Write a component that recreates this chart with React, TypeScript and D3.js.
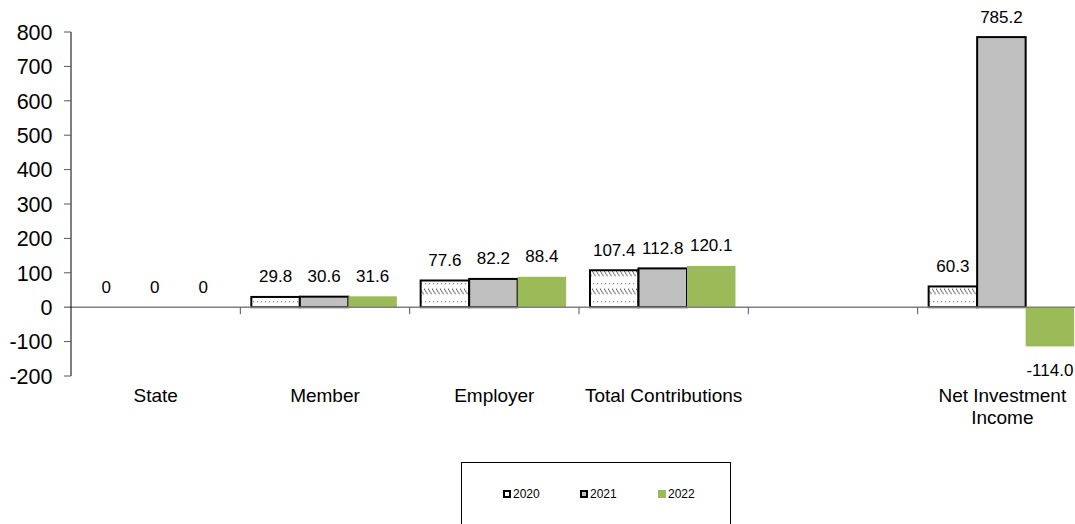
import React from "react";
import * as d3 from "d3";

const categories = ["State", "Member", "Employer", "Total Contributions", "", "Net Investment Income"];
const categoryLines = [["State"], ["Member"], ["Employer"], ["Total Contributions"], [], ["Net Investment", "Income"]];
const years = ["2020", "2021", "2022"];
const values2020: (number | null)[] = [0, 29.8, 77.6, 107.4, null, 60.3];
const values2021: (number | null)[] = [0, 30.6, 82.2, 112.8, null, 785.2];
const values2022: (number | null)[] = [0, 31.6, 88.4, 120.1, null, -114.0];
const yTicks = [-200, -100, 0, 100, 200, 300, 400, 500, 600, 700, 800];

const W = 1075;
const H = 524;
const FONT = "'Liberation Sans', Arial, Helvetica, sans-serif";
const GREEN = "#9BBB59";
const GRAY = "#C0C0C0";

export default function App() {
  const left = 71;
  const catW = 169.33;
  const x = d3.scaleBand<string>().domain(categories.map((c, i) => String(i))).range([left, left + catW * categories.length]).paddingInner(0).paddingOuter(0);
  const xs = d3.scaleBand<string>().domain(years).range([11, 11 + 145.5]);
  const y = d3.scaleLinear().domain([-200, 800]).range([376, 32]);
  const y0 = y(0);
  const series = [values2020, values2021, values2022];
  const fmt = (v: number) => (v === 0 ? "0" : v.toFixed(1));

  const barStyle = (k: number) => {
    if (k === 0) return { fill: "url(#hatch)", stroke: "#000", strokeWidth: 2 };
    if (k === 1) return { fill: GRAY, stroke: "#000", strokeWidth: 2 };
    return { fill: GREEN, stroke: "none", strokeWidth: 0 };
  };

  return (
    <svg width={W} height={H} style={{ position: "absolute", left: 0, top: 0 }} fontFamily={FONT}>
      <defs>
        <pattern id="hatch" patternUnits="userSpaceOnUse" width="4" height="18" y={y0 % 18 - 1}>
          <rect width="4" height="18" fill="#fff" />
          <path d="M0,0.5 L4,6.5" stroke="#555" strokeWidth="1.1" strokeDasharray="1.6 0.7" />
          <path d="M1,13.5 L2.2,13.5" stroke="#777" strokeWidth="1" />
        </pattern>
      </defs>
      <rect width={W} height={H} fill="#fff" />

      {/* bars */}
      {categories.map((c, i) =>
        series.map((vals, k) => {
          const v = vals[i];
          if (v === null || v === 0) return null;
          const bx = (x(String(i)) as number) + (xs(years[k]) as number);
          const bw = xs.bandwidth();
          const top = Math.min(y(v), y0);
          const h = Math.abs(y(v) - y0);
          const s = barStyle(k);
          return <rect key={`b${i}-${k}`} x={bx} y={top} width={bw} height={h} fill={s.fill} stroke={s.stroke} strokeWidth={s.strokeWidth} />;
        })
      )}

      {/* zero line */}
      <line x1={64} x2={W} y1={y0} y2={y0} stroke="#808080" strokeWidth={1.5} />
      {/* category ticks */}
      {categories.map((c, i) => {
        const tx = (x(String(i)) as number) + catW;
        return <line key={`ct${i}`} x1={tx} x2={tx} y1={y0} y2={y0 + 7} stroke="#555" strokeWidth={1} />;
      })}

      {/* y axis */}
      <line x1={left} x2={left} y1={y(800)} y2={y(-200)} stroke="#000" strokeWidth={1} />
      {yTicks.map((t) => (
        <g key={`yt${t}`}>
          {t !== 0 && <line x1={64} x2={left} y1={y(t)} y2={y(t)} stroke="#555" strokeWidth={1} />}
          <text x={52.5} y={y(t)} dy="0.36em" textAnchor="end" fontSize={21.5} fill="#000">
            {t}
          </text>
        </g>
      ))}

      {/* value labels */}
      {categories.map((c, i) =>
        series.map((vals, k) => {
          const v = vals[i];
          if (v === null) return null;
          const cx = (x(String(i)) as number) + (xs(years[k]) as number) + xs.bandwidth() / 2;
          const ly = v >= 0 ? y(v) - 14.5 : y(v) + 30;
          return (
            <text key={`l${i}-${k}`} x={cx} y={ly} textAnchor="middle" fontSize={17} fill="#000">
              {fmt(v)}
            </text>
          );
        })
      )}

      {/* category labels */}
      {categoryLines.map((lines, i) => {
        const cx = (x(String(i)) as number) + catW / 2;
        return lines.map((ln, j) => (
          <text key={`c${i}-${j}`} x={cx} y={402 + j * 22} textAnchor="middle" fontSize={19} fill="#000">
            {ln}
          </text>
        ));
      })}

      {/* legend */}
      <rect x={461.5} y={462.5} width={269} height={80} fill="#fff" stroke="#000" strokeWidth={1} />
      {years.map((yr, k) => {
        const mx = [503, 580, 658][k];
        const s = barStyle(k);
        return (
          <g key={`lg${k}`}>
            {k < 2 && <rect x={mx + 1} y={491} width={6} height={6} fill={k === 0 ? "#fff" : s.fill} stroke="#000" strokeWidth={2} />}
            {k === 2 && <rect x={mx} y={490} width={8} height={8} fill={GREEN} />}
            <text x={mx + 10} y={494} dy="0.36em" fontSize={12} fill="#000">
              {yr}
            </text>
          </g>
        );
      })}
    </svg>
  );
}
